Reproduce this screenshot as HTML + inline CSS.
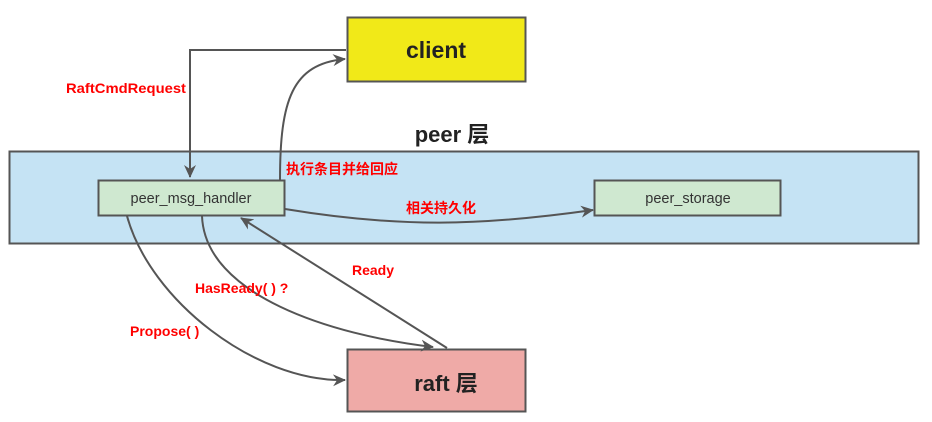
<!DOCTYPE html>
<html><head><meta charset="utf-8"><style>
html,body{margin:0;padding:0;background:#fff;width:932px;height:422px;overflow:hidden}
svg text{font-family:"Liberation Sans","Noto Sans CJK SC",sans-serif}
</style></head><body>
<svg width="932" height="422" viewBox="0 0 932 422" xmlns="http://www.w3.org/2000/svg">
<defs>
<marker id="a" markerWidth="14" markerHeight="12" refX="12" refY="6" orient="auto" markerUnits="userSpaceOnUse">
<path d="M0,0 L13,6 L0,12 L4,6 Z" fill="#555"/></marker>
</defs>
<rect x="9.5" y="151.5" width="909" height="92" fill="#c5e3f4" stroke="#555" stroke-width="2"/>
<rect x="347.5" y="17.5" width="178" height="64" fill="#f1e918" stroke="#555" stroke-width="2"/>
<rect x="347.5" y="349.5" width="178" height="62" fill="#efaaa7" stroke="#555" stroke-width="2"/>
<rect x="98.5" y="180.5" width="186" height="35" fill="#cfe8d0" stroke="#555" stroke-width="2"/>
<rect x="594.5" y="180.5" width="186" height="35" fill="#cfe8d0" stroke="#555" stroke-width="2"/>
<g fill="none" stroke="#555" stroke-width="2">
<path d="M346 50 H190 V177" marker-end="url(#a)"/>
<path d="M280 180 C280 100 292 64 345 59" marker-end="url(#a)"/>
<path d="M285 209 C400 228 480 226 593 210" marker-end="url(#a)"/>
<path d="M127 216 C150 300 255 382 345 380" marker-end="url(#a)"/>
<path d="M202 216 C205 295 330 335 433 347" marker-end="url(#a)"/>
<path d="M447 348 L241 218" marker-end="url(#a)"/>
</g>
<text x="436" y="58" font-size="23" font-weight="bold" text-anchor="middle" fill="#222">client</text>
<text x="452" y="142" font-size="22" font-weight="bold" text-anchor="middle" fill="#222">peer 层</text>
<text x="446" y="391" font-size="22" font-weight="bold" text-anchor="middle" fill="#222">raft 层</text>
<text x="191" y="203" font-size="14.5" text-anchor="middle" fill="#333">peer_msg_handler</text>
<text x="688" y="203" font-size="14.5" text-anchor="middle" fill="#333">peer_storage</text>
<g fill="#f00" font-size="14" font-weight="bold">
<text x="66" y="93" textLength="120" lengthAdjust="spacingAndGlyphs">RaftCmdRequest</text>
<text x="286" y="174">执行条目并给回应</text>
<text x="406" y="213">相关持久化</text>
<text x="352" y="275">Ready</text>
<text x="195" y="293">HasReady( ) ?</text>
<text x="130" y="336">Propose( )</text>
</g>
</svg>
</body></html>
